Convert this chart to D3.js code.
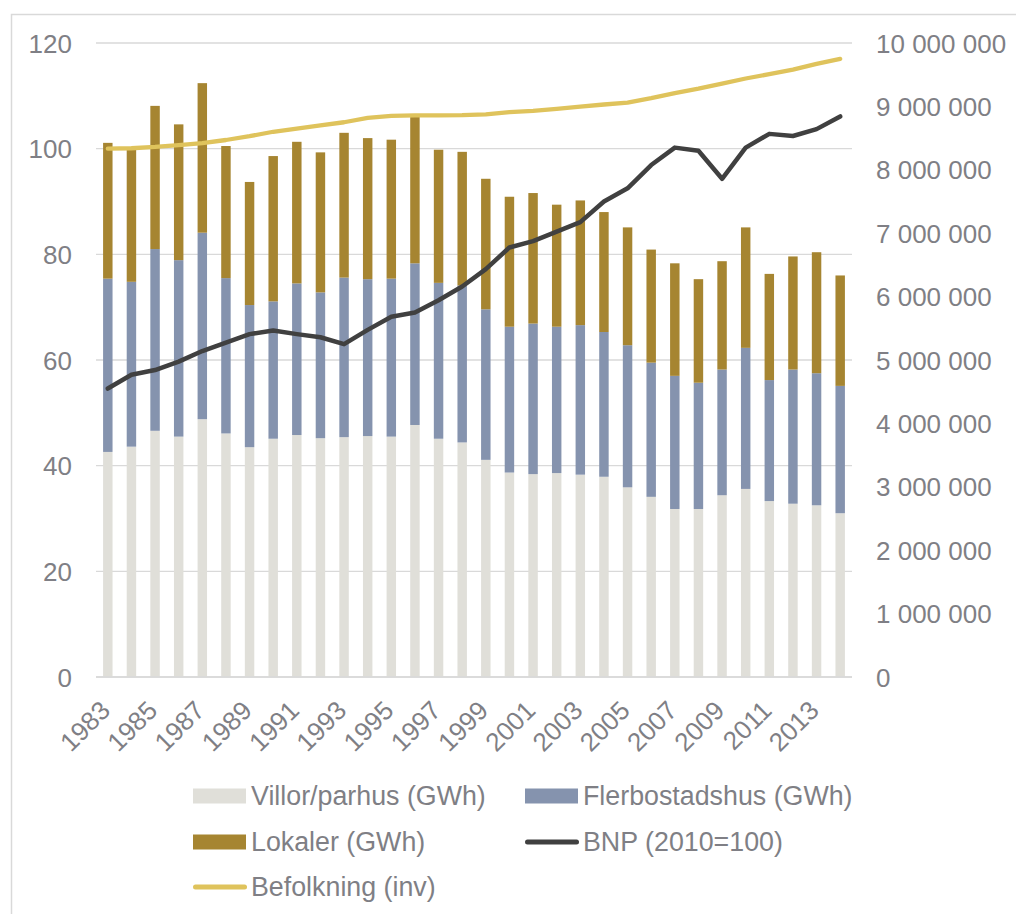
<!DOCTYPE html>
<html>
<head>
<meta charset="utf-8">
<script src="https://cdn.jsdelivr.net/npm/d3@7"></script>
<style>
  html, body { margin: 0; padding: 0; background: #fff; }
  svg { display: block; }
  text { font-family: "Liberation Sans", Arial, sans-serif; fill: #7f7f85; }
</style>
</head>
<body>
<svg id="chart" width="1016" height="914"></svg>
<script>
const years = d3.range(1983, 2015);
const villor = [42.6, 43.6, 46.6, 45.5, 48.8, 46.1, 43.5, 45.1, 45.8, 45.2, 45.4, 45.6, 45.5, 47.7, 45.1, 44.4,
                41.1, 38.7, 38.4, 38.6, 38.3, 37.9, 35.9, 34.1, 31.8, 31.8, 34.4, 35.6, 33.3, 32.8, 32.5, 31.0];
const flerbostadshus = [32.8, 31.2, 34.4, 33.4, 35.3, 29.4, 26.9, 26.0, 28.7, 27.6, 30.2, 29.7, 29.9, 30.6, 29.5, 29.7,
                        28.5, 27.6, 28.5, 27.7, 28.3, 27.4, 26.9, 25.4, 25.2, 23.9, 23.8, 26.7, 22.9, 25.4, 25.0, 24.1];
const lokaler = [25.7, 25.1, 27.1, 25.7, 28.3, 25.0, 23.3, 27.5, 26.8, 26.5, 27.4, 26.7, 26.3, 27.9, 25.2, 25.3,
                 24.7, 24.6, 24.7, 23.1, 23.6, 22.7, 22.3, 21.4, 21.3, 19.6, 20.5, 22.8, 20.1, 21.4, 22.9, 20.9];
const bnp = [54.6, 57.2, 58.1, 59.7, 61.7, 63.3, 64.9, 65.6, 64.9, 64.3, 63.0, 65.7, 68.2, 69.0, 71.3, 73.9,
             77.2, 81.3, 82.5, 84.3, 86.1, 90.0, 92.5, 96.9, 100.2, 99.6, 94.3, 100.2, 102.8, 102.4, 103.7, 106.1];
const befolkning = [8333000, 8340000, 8360000, 8390000, 8420000, 8470000, 8530000, 8600000, 8650000, 8700000,
                    8750000, 8820000, 8850000, 8860000, 8860000, 8862000, 8875000, 8910000, 8930000, 8960000,
                    8995000, 9030000, 9060000, 9130000, 9210000, 9280000, 9360000, 9440000, 9510000, 9580000,
                    9670000, 9750000];
const leftTicks = [0, 20, 40, 60, 80, 100, 120];
const rightTicks = [0, 1e6, 2e6, 3e6, 4e6, 5e6, 6e6, 7e6, 8e6, 9e6, 1e7];
const seriesNames = ["Villor/parhus (GWh)", "Flerbostadshus (GWh)", "Lokaler (GWh)", "BNP (2010=100)", "Befolkning (inv)"];
const colors = ["#e0dfd9", "#8593ae", "#a68531", "#404040", "#dfc35c"];

const svg = d3.select("#chart");
const plotLeft = 96, plotRight = 852, plotTop = 43, plotBottom = 677;
const fontSize = 26;
const textColor = "#7f7f85";

// frame
svg.append("rect").attr("x", 11.5).attr("y", 14.5).attr("width", 1030).attr("height", 930)
  .attr("fill", "none").attr("stroke", "#d9d9d9").attr("stroke-width", 1.5);

const x = d3.scaleBand().domain(years).range([plotLeft, plotRight]).paddingInner(0.6).paddingOuter(0.3);
const y = d3.scaleLinear().domain([0, 120]).range([plotBottom, plotTop]);
const y2 = d3.scaleLinear().domain([0, 1e7]).range([plotBottom, plotTop]);

// gridlines
svg.append("g").selectAll("line").data(leftTicks).join("line")
  .attr("x1", plotLeft).attr("x2", plotRight)
  .attr("y1", d => y(d)).attr("y2", d => y(d))
  .attr("stroke", "#d9d9d9").attr("stroke-width", 1.3);

// stacked bars
const table = years.map((yr, i) => ({ year: yr, v: villor[i], f: flerbostadshus[i], l: lokaler[i] }));
const stack = d3.stack().keys(["v", "f", "l"])(table);
svg.append("g").selectAll("g").data(stack).join("g")
  .attr("fill", (d, i) => colors[i])
  .selectAll("rect").data(d => d).join("rect")
  .attr("x", d => x(d.data.year))
  .attr("width", x.bandwidth())
  .attr("y", d => y(d[1]))
  .attr("height", d => y(d[0]) - y(d[1]));

// lines
const cx = yr => x(yr) + x.bandwidth() / 2;
svg.append("path").datum(befolkning)
  .attr("d", d3.line().x((d, i) => cx(years[i])).y(d => y2(d)))
  .attr("fill", "none").attr("stroke", colors[4]).attr("stroke-width", 4.3)
  .attr("stroke-linecap", "round").attr("stroke-linejoin", "round");
svg.append("path").datum(bnp)
  .attr("d", d3.line().x((d, i) => cx(years[i])).y(d => y(d)))
  .attr("fill", "none").attr("stroke", colors[3]).attr("stroke-width", 4.5)
  .attr("stroke-linecap", "round").attr("stroke-linejoin", "round");

// left axis
const leftAxis = d3.axisLeft(y).tickValues(leftTicks).tickSize(0).tickPadding(0);
const gL = svg.append("g").attr("transform", `translate(72,0)`).call(leftAxis);
gL.select(".domain").remove();
gL.selectAll("text").attr("font-size", fontSize).attr("dy", "0.35em")
  .style("font-family", "Liberation Sans, Arial, sans-serif").attr("fill", textColor);

// right axis
const fmt = d3.formatLocale({ decimal: ",", thousands: " ", grouping: [3], currency: ["", ""] }).format(",");
const rightAxis = d3.axisRight(y2).tickValues(rightTicks).tickSize(0).tickPadding(0).tickFormat(fmt);
const gR = svg.append("g").attr("transform", `translate(876,0)`).call(rightAxis);
gR.select(".domain").remove();
gR.selectAll("text").attr("font-size", fontSize).attr("dy", "0.35em")
  .style("font-family", "Liberation Sans, Arial, sans-serif").attr("fill", textColor);

// x axis line
svg.append("line").attr("x1", plotLeft).attr("x2", plotRight).attr("y1", plotBottom).attr("y2", plotBottom)
  .attr("stroke", "#d9d9d9").attr("stroke-width", 1.3);

// x labels
const xAxis = d3.axisBottom(x).tickValues(years.filter((d, i) => i % 2 === 0)).tickSize(0).tickPadding(0);
const gX = svg.append("g").attr("transform", `translate(0,${plotBottom})`).call(xAxis);
gX.select(".domain").remove();
gX.selectAll("text")
  .attr("font-size", fontSize).attr("text-anchor", "end").attr("dy", 0).attr("y", 0)
  .attr("transform", "translate(4,35) rotate(-45)")
  .style("font-family", "Liberation Sans, Arial, sans-serif").attr("fill", textColor);

// legend
const legendItems = [
  { name: seriesNames[0], type: "rect", color: colors[0], x: 193, y: 796 },
  { name: seriesNames[1], type: "rect", color: colors[1], x: 525, y: 796 },
  { name: seriesNames[2], type: "rect", color: colors[2], x: 193, y: 842 },
  { name: seriesNames[3], type: "line", color: colors[3], x: 525, y: 842 },
  { name: seriesNames[4], type: "line", color: colors[4], x: 193, y: 887 }
];
const lg = svg.append("g").selectAll("g").data(legendItems).join("g")
  .attr("transform", d => `translate(${d.x},${d.y})`);
lg.filter(d => d.type === "rect").append("rect")
  .attr("x", 0).attr("y", -7.5).attr("width", 53).attr("height", 15).attr("fill", d => d.color);
lg.filter(d => d.type === "line").append("line")
  .attr("x1", 2.5).attr("x2", 51.5).attr("y1", 0).attr("y2", 0)
  .attr("stroke", d => d.color).attr("stroke-width", 5).attr("stroke-linecap", "round");
lg.append("text").attr("x", 58).attr("y", 0).attr("dy", "0.35em")
  .attr("font-size", 26.8).attr("fill", textColor).text(d => d.name);
</script>
</body>
</html>
